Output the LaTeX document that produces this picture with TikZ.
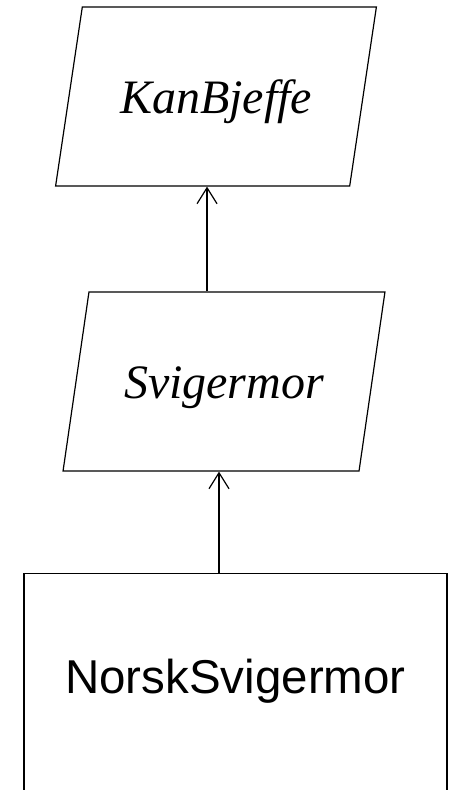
\documentclass[tikz,border=0pt]{standalone}
\usepackage{fontspec}
\setmainfont{Liberation Serif}
\setsansfont{Liberation Sans}
\usetikzlibrary{shapes.geometric,arrows.meta}
\begin{document}
\begin{tikzpicture}[
		x=1pt,
		y=-1pt,
		line width=1.2pt,
		iface/.style={
				draw,
				trapezium,
				trapezium left angle=72.7,
				trapezium right angle=107.3,
				trapezium stretches=true,
				minimum width=322pt,
				minimum height=179pt,
				text height=45pt,
				text depth=12pt,
				font=\fontsize{48}{58}\selectfont\itshape
			},
		klasse/.style={
				draw,
				anchor=north,
				minimum width=423pt,
				inner sep=0pt,
				text height=120pt,
				text depth=160pt,
				font=\fontsize{47.5}{57}\selectfont\sffamily
			},
		arv/.style={
				-{Straight Barb[length=16pt,width=20pt,line width=1.2pt]}
			}
	]
	\useasboundingbox (0,0) rectangle (450,790);
	\node[iface] (kanbjeffe) at (216,96.5) {KanBjeffe};
	\node[iface] (svigermor) at (224,381.5) {Svigermor};
	\node[klasse] (norsk) at (235.5,573) {NorskSvigermor};
	\draw[arv] ([xshift=-17pt]svigermor.north) -- ([xshift=-17pt]svigermor.north |- kanbjeffe.south);
	\draw[arv] ([xshift=-16.5pt]norsk.north) -- ([xshift=-16.5pt]norsk.north |- svigermor.south);
\end{tikzpicture}
\end{document}
